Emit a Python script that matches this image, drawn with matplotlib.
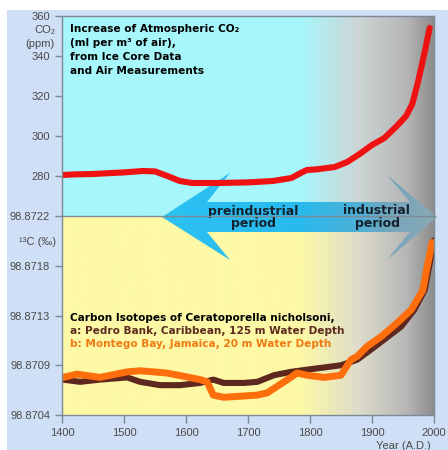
import numpy as np
import matplotlib
matplotlib.use("Agg")
import matplotlib.pyplot as plt
from matplotlib.colors import LinearSegmentedColormap
from matplotlib.patches import Polygon, Rectangle

# Atmospheric CO2 from ice cores and direct measurements
co2_year = [1400, 1420, 1450, 1480, 1500, 1530, 1550, 1570, 1590, 1610, 1650, 1700,
            1740, 1770, 1785, 1795, 1810, 1840, 1860, 1880, 1900, 1920, 1940, 1955,
            1965, 1975, 1985, 1993]
co2_ppm = [280.5, 280.8, 281.0, 281.5, 281.8, 282.5, 282.3, 280.0, 277.5, 276.5, 276.5,
           276.8, 277.5, 279.0, 281.5, 283.0, 283.3, 284.5, 287.0, 291.0, 295.5, 299.0,
           305.0, 310.0, 316.0, 328.0, 342.0, 354.0]

# Carbon isotopes of Ceratoporella nicholsoni
# a: Pedro Bank, Caribbean, 125 m water depth
a_year = [1402, 1429, 1461, 1505, 1526, 1558, 1590, 1623, 1644, 1661, 1694, 1715, 1742,
          1769, 1795, 1823, 1850, 1876, 1898, 1919, 1947, 1968, 1985, 1994, 2000]
a_d13c = [98.87072, 98.87070, 98.87072, 98.87074, 98.87070, 98.87067, 98.87067,
          98.87069, 98.87072, 98.87069, 98.87069, 98.87070, 98.87076, 98.87079,
          98.87081, 98.87083, 98.87085, 98.87090, 98.87099, 98.87108, 98.87120,
          98.87135, 98.87153, 98.87180, 98.87198]
# b: Montego Bay, Jamaica, 20 m water depth
b_year = [1402, 1424, 1461, 1505, 1526, 1569, 1623, 1634, 1644, 1661, 1715, 1731, 1769,
          1779, 1795, 1823, 1850, 1866, 1876, 1892, 1915, 1940, 1963, 1982, 1989, 1997]
b_d13c = [98.87074, 98.87077, 98.87074, 98.87079, 98.87080, 98.87078, 98.87072,
          98.87070, 98.87058, 98.87056, 98.87058, 98.87060, 98.87074, 98.87078,
          98.87076, 98.87074, 98.87076, 98.87090, 98.87093, 98.87102, 98.87111,
          98.87123, 98.87135, 98.87153, 98.87174, 98.87196]

x_ticks = [1400, 1500, 1600, 1700, 1800, 1900, 2000]
co2_ticks = [280, 300, 320, 340, 360]
d13c_ticks = [98.8704, 98.87085, 98.8713, 98.87175, 98.8722]
d13c_labels = ["98.8704", "98.8709", "98.8713", "98.8718", "98.8722"]

plt.rcParams['font.family'] = ['Liberation Sans', 'DejaVu Sans']

W, H = 448, 450
L, R, T, M, B = 62, 434, 16, 216, 415   # plot frame in pixels

fig = plt.figure(figsize=(W / 100, H / 100), dpi=100)
fig.patch.set_facecolor('white')

# background layer in pixel coordinates
bg = fig.add_axes([0, 0, 1, 1], zorder=0)
bg.set_xlim(0, W)
bg.set_ylim(H, 0)
bg.axis('off')
bg.add_patch(Rectangle((7, 10), W - 7, H - 10, facecolor='#cfdff5', edgecolor='none'))


def panel_cmap(base, mid):
    return LinearSegmentedColormap.from_list(
        'p', [(0, base), (0.64, base), (0.80, mid), (0.93, '#b6b6b6'), (1.0, '#8e8e8e')])


grad = np.linspace(0, 1, 400).reshape(1, -1)
bg.imshow(grad, cmap=panel_cmap('#a6f7fb', '#cdd5d5'), aspect='auto',
          extent=(L, R, M, T), zorder=1)
bg.imshow(grad, cmap=panel_cmap('#fdf9a6', '#dedccb'), aspect='auto',
          extent=(L, R, B, M), zorder=1)

# double arrow: preindustrial / industrial period
arrow_pts = [(162, 217), (230, 173), (207, 202), (410, 202), (387, 175), (437, 217),
             (387, 260), (410, 232), (207, 232), (230, 260)]
arrow = Polygon(arrow_pts, closed=True, facecolor='none', edgecolor='none')
bg.add_patch(arrow)
arrow_cmap = LinearSegmentedColormap.from_list(
    'arrow', [(0, '#2cc2f2'), (0.5, '#28baee'), (0.72, '#4fb0d6'),
              (0.84, '#76a6bb'), (1.0, '#8aa8b5')])
im = bg.imshow(grad, cmap=arrow_cmap, aspect='auto', extent=(162, 437, 260, 173), zorder=2)
im.set_clip_path(arrow)

heavy = ['DejaVu Sans', 'Liberation Sans']
arrow_txt = dict(fontweight='bold', fontsize=9, family=heavy, color='#14222e', zorder=5,
                 ha='center', va='center')
bg.text(253, 212, 'preindustrial', **arrow_txt)
bg.text(253, 224, 'period', **arrow_txt)
bg.text(376, 210, 'industrial', **arrow_txt)
bg.text(377, 223, 'period', **arrow_txt)

bold = dict(fontweight='bold', fontsize=7.6, family=heavy, zorder=5, ha='left', va='center')
for i, s in enumerate(['Increase of Atmospheric CO\u2082', '(ml per m\u00b3 of air),',
                       'from Ice Core Data', 'and Air Measurements']):
    bg.text(70, 29 + i * 14, s, color='black', **bold)

bg.text(70, 318, 'Carbon Isotopes of Ceratoporella nicholsoni,', color='black', **bold)
bg.text(70, 331, 'a: Pedro Bank, Caribbean, 125 m Water Depth', color='#5c2a1e', **bold)
bg.text(70, 344, 'b: Montego Bay, Jamaica, 20 m Water Depth', color='#f07a14', **bold)

lab = dict(fontsize=8, color='#4a4a4a', zorder=5, ha='center', va='center')
bg.text(45, 30, 'CO\u2082', **lab)
bg.text(40, 44, '(ppm)', **lab)
bg.text(38, 242, '\u00b9\u00b3C (\u2030)', **lab)
bg.text(403, 446, 'Year (A.D.)', **lab)


def frac(l, t, r, b):
    return [l / W, 1 - b / H, (r - l) / W, (b - t) / H]


spine_c = '#7d8a96'
ax_top = fig.add_axes(frac(L, T, R, M), zorder=3)
ax_bot = fig.add_axes(frac(L, M, R, B), zorder=3)
for ax in (ax_top, ax_bot):
    ax.set_facecolor('none')
    ax.set_xlim(1400, 2000)
    for s in ax.spines.values():
        s.set_color(spine_c)
        s.set_linewidth(1.0)
    ax.tick_params(colors=spine_c, labelcolor='#4a4a4a', labelsize=8, length=5, width=1)

ax_top.set_ylim(260, 360)
ax_top.set_yticks(co2_ticks)
ax_top.set_xticks([])
ax_top.spines['bottom'].set_visible(False)
ax_top.plot(co2_year, co2_ppm, color='#ee1212', lw=4.4, solid_capstyle='round',
            solid_joinstyle='round')

ax_bot.set_ylim(98.8704, 98.8722)
ax_bot.set_yticks(d13c_ticks)
ax_bot.set_yticklabels(d13c_labels)
ax_bot.set_xticks(x_ticks)
ax_bot.tick_params(axis='x', length=6, pad=3)
ax_bot.plot(a_year, a_d13c, color='#5e281e', lw=4.4, solid_capstyle='round',
            solid_joinstyle='round')
ax_bot.plot(b_year, b_d13c, color='#ff6e0c', lw=5.0, solid_capstyle='round',
            solid_joinstyle='round')

fig.savefig('out.png', dpi=100)
